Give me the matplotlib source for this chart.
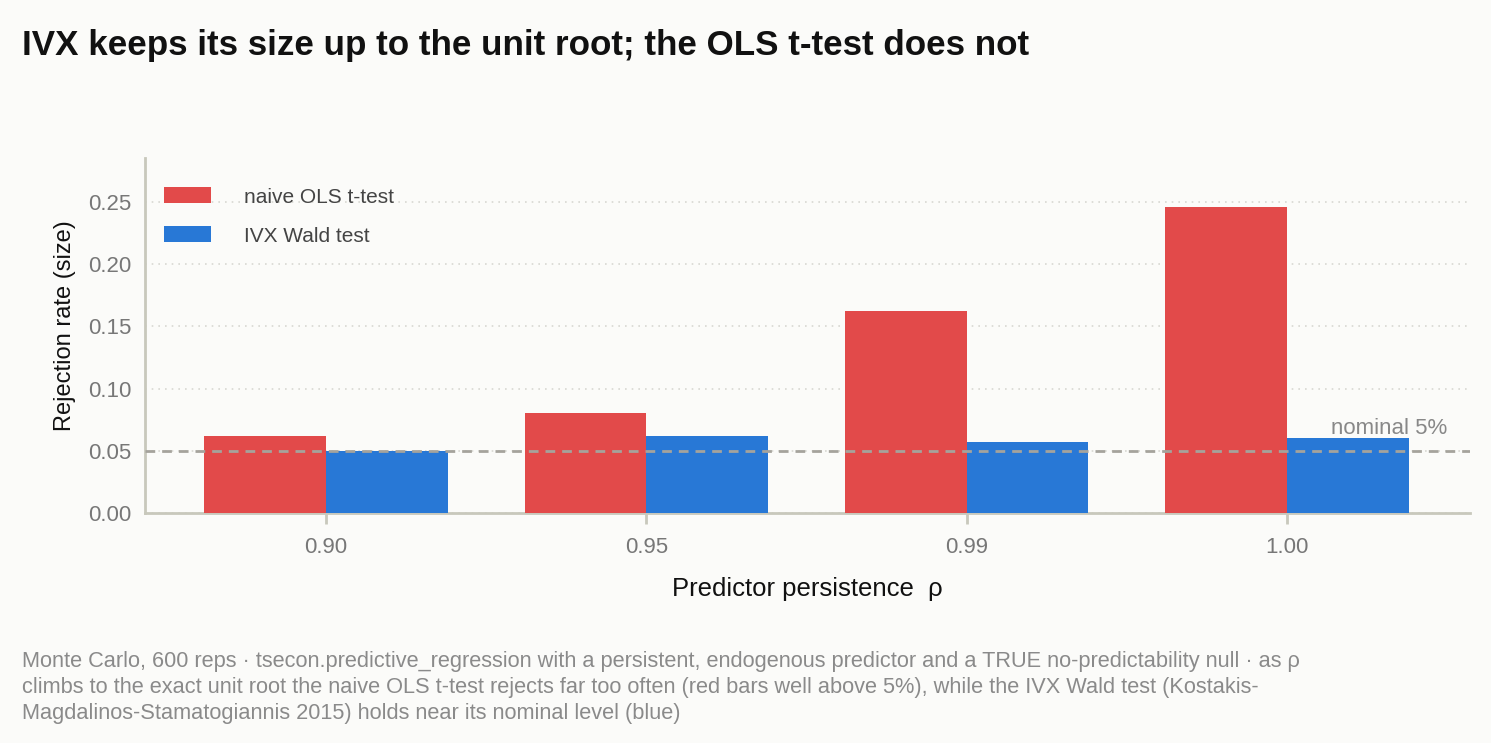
import matplotlib
matplotlib.use("Agg")
import matplotlib.pyplot as plt
import numpy as np

rho_labels = ["0.90", "0.95", "0.99", "1.00"]
ols_size = [0.062, 0.080, 0.162, 0.246]
ivx_size = [0.050, 0.062, 0.057, 0.060]
nominal = 0.05
y_ticks = [0.00, 0.05, 0.10, 0.15, 0.20, 0.25]

plt.rcParams['font.family'] = ['Liberation Sans', 'DejaVu Sans']

BG = "#fbfbf9"
RED = "#e24a4a"
BLUE = "#2878d6"
SPINE = "#c8c8bc"

fig = plt.figure(figsize=(14.91, 7.43), dpi=100, facecolor=BG)
ax = fig.add_axes([145/1491, 1-513/743, (1470-145)/1491, (513-158)/743])
ax.set_facecolor(BG)

x = np.arange(len(rho_labels))
w = 0.38
ax.bar(x - w/2, ols_size, width=w, color=RED, label="naive OLS t-test", zorder=3)
ax.bar(x + w/2, ivx_size, width=w, color=BLUE, label="IVX Wald test", zorder=3)

ax.axhline(nominal, color="#a5a39c", lw=2, ls=(0, (3.5, 2.5)), zorder=4)
ax.text(3.5, nominal + 0.0177, "nominal 5%", color="#888888", fontsize=16,
        ha="right", va="center", zorder=5)

ax.set_xlim(-0.565, 3.571)
ax.set_ylim(0, 0.2854)
ax.set_xticks(x)
ax.set_xticklabels(rho_labels)
ax.set_yticks(y_ticks)
ax.set_yticklabels([f"{v:.2f}" for v in y_ticks])
ax.yaxis.grid(True, color="#d8d8d2", ls=(0, (1, 3)), lw=1.2, zorder=0)
ax.set_axisbelow(True)

for s in ["top", "right"]:
    ax.spines[s].set_visible(False)
for s in ["left", "bottom"]:
    ax.spines[s].set_color(SPINE)
    ax.spines[s].set_linewidth(2)

ax.tick_params(axis="x", colors="#777777", labelsize=16, length=8, width=2,
               color=SPINE, pad=9)
ax.tick_params(axis="y", colors="#777777", labelsize=16, length=0, pad=10)
for lab in ax.get_xticklabels() + ax.get_yticklabels():
    lab.set_color("#777777")

ax.set_xlabel("Predictor persistence  ρ", fontsize=18.5, color="#111111", labelpad=14)
ax.set_ylabel("Rejection rate (size)", fontsize=17, color="#111111")
ax.yaxis.set_label_coords(-0.052, 0.527)

leg = ax.legend(loc="upper left", frameon=False, fontsize=15, labelcolor="#444444",
                handlelength=2.25, handleheight=0.8, handletextpad=1.6,
                labelspacing=0.95, bbox_to_anchor=(0.0, 0.97))

fig.text(22/1491, 1-45/743, "IVX keeps its size up to the unit root; the OLS t-test does not",
         fontsize=25.2, fontweight="bold", color="#111111", ha="left", va="center")

caption = ("Monte Carlo, 600 reps · tsecon.predictive_regression with a persistent, endogenous predictor and a TRUE no-predictability null · as ρ\n"
           "climbs to the exact unit root the naive OLS t-test rejects far too often (red bars well above 5%), while the IVX Wald test (Kostakis-\n"
           "Magdalinos-Stamatogiannis 2015) holds near its nominal level (blue)")
fig.text(22/1491, 1-651/743, caption, fontsize=15.7, color="#8a8a8a", ha="left", va="top",
         linespacing=1.3)

fig.savefig("out.png", dpi=100, facecolor=BG)
